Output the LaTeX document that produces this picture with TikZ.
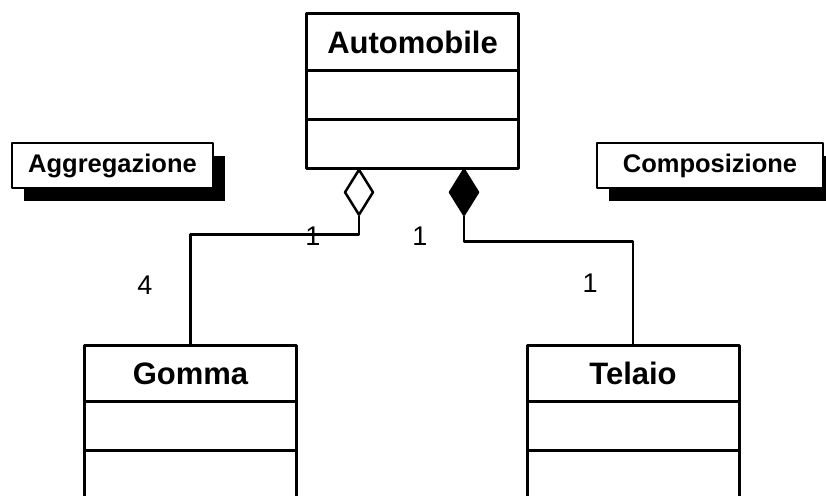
\documentclass[tikz,border=0pt]{standalone}
\usepackage{fontspec}
\setmainfont{Liberation Sans}
\usetikzlibrary{positioning,shapes.geometric,shadows}
\tikzset{
uml/.style={draw,line width=3pt,minimum width=212pt,inner sep=0pt,outer sep=0pt},
classname/.style={uml,minimum height=56pt,font=\fontsize{31}{36}\selectfont\bfseries},
compart/.style={uml,minimum height=49pt},
note/.style={draw,line width=2pt,fill=white,minimum height=45pt,inner sep=0pt,
  font=\fontsize{25.5}{30}\selectfont\bfseries,
  drop shadow={shadow xshift=12pt,shadow yshift=-13pt,fill=black,opacity=1}},
mult/.style={font=\fontsize{27}{32}\selectfont},
}
\begin{document}
\begin{tikzpicture}[line cap=round,line join=round,x=1pt,y=-1pt]
\clip (0,0) rectangle (826,495);
\fill[white] (0,0) rectangle (826,495);
% classes
\node[classname] (auto) at (412.5,42) {Automobile};
\node[compart,below=0pt of auto] (auto1) {};
\node[compart,below=0pt of auto1] (auto2) {};
\node[classname] (gomma) at (190.5,373.5) {Gomma};
\node[compart,below=0pt of gomma] (gomma1) {};
\node[compart,below=0pt of gomma1] (gomma2) {};
\node[classname] (telaio) at (633,373.5) {Telaio};
\node[compart,below=0pt of telaio] (telaio1) {};
\node[compart,below=0pt of telaio1] (telaio2) {};
% notes
\node[note,minimum width=201pt] (aggnote) at (112.5,165.5) {Aggregazione};
\node[note,minimum width=226pt] (compnote) at (710,165.5) {Composizione};
% associations
\node[diamond,draw,line width=2.5pt,fill=white,inner sep=0pt,aspect=0.62,
  minimum width=29pt,minimum height=46pt,anchor=north] (aggr) at ([xshift=-53.5pt]auto2.south) {};
\node[diamond,draw,line width=2.5pt,fill=black,inner sep=0pt,aspect=0.62,
  minimum width=29pt,minimum height=46pt,anchor=north] (comp) at ([xshift=51.5pt]auto2.south) {};
\draw[line width=2.5pt] (aggr.south) -- ++(0,18) -| (gomma.north);
\draw[line width=2.5pt] (comp.south) -- ++(0,25) -| (telaio.north);
\node[mult] (m1) at (313,236) {1};
\node[mult] (m2) at (420,236) {1};
\node[mult] (m3) at (145,285) {4};
\node[mult] (m4) at (590,283) {1};
\end{tikzpicture}
\end{document}
